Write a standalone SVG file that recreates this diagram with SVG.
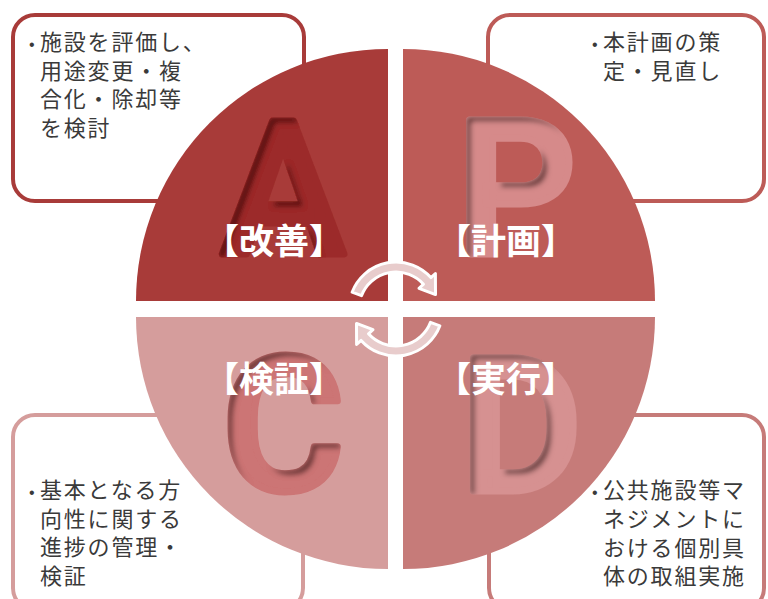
<svg xmlns="http://www.w3.org/2000/svg" width="768" height="599" viewBox="0 0 768 599">
<style>
.box{fill:#fff;stroke-width:4}
.t{font-family:"Noto Sans CJK JP","Noto Sans",sans-serif;font-size:22px;fill:#3a3a3a;letter-spacing:1.8px}
.bu{font-family:"Liberation Sans",sans-serif;font-size:16px;letter-spacing:0}
.lab{font-family:"Noto Sans CJK JP",sans-serif;font-weight:700;font-size:35px;fill:#fff;text-anchor:middle}
.let{font-family:Roboto,"Liberation Sans",sans-serif;font-weight:500;font-size:188px;text-anchor:middle;stroke-width:7;stroke-linejoin:round;filter:url(#inset)}
.arr{fill:#e8cccc;stroke:#fff;stroke-width:3;stroke-linejoin:round}
</style>
<defs>
<filter id="inset" x="-10%" y="-10%" width="120%" height="120%">
<feOffset in="SourceAlpha" dx="5" dy="5" result="o"/>
<feComposite in="SourceAlpha" in2="o" operator="out" result="edge"/>
<feGaussianBlur in="edge" stdDeviation="2.5" result="b"/>
<feFlood flood-color="#2a0808" flood-opacity="0.8"/>
<feComposite in2="b" operator="in" result="sh"/>
<feComposite in="sh" in2="SourceAlpha" operator="in" result="sh2"/>
<feMerge><feMergeNode in="SourceGraphic"/><feMergeNode in="sh2"/></feMerge>
</filter>
</defs>
<rect width="768" height="599" fill="#fff"/>
<g id="box-act">
<rect class="box" x="13" y="15" width="291" height="186" rx="22" stroke="#a83b39"/>
<text class="t" y="50"><tspan class="bu" x="29">•</tspan><tspan x="40">施設を評価し、</tspan></text>
<text class="t" x="40" y="78.5">用途変更・複</text>
<text class="t" x="40" y="107">合化・除却等</text>
<text class="t" x="40" y="135.5">を検討</text>
</g>
<g id="box-plan">
<rect class="box" x="488" y="15" width="276" height="186" rx="22" stroke="#bd5b57"/>
<text class="t" y="50"><tspan class="bu" x="592">•</tspan><tspan x="603">本計画の策</tspan></text>
<text class="t" x="603" y="78.5">定・見直し</text>
</g>
<g id="box-check">
<rect class="box" x="13" y="415" width="290" height="195" rx="22" stroke="#d59d9c"/>
<text class="t" y="498"><tspan class="bu" x="29">•</tspan><tspan x="40">基本となる方</tspan></text>
<text class="t" x="40" y="526.5">向性に関する</text>
<text class="t" x="40" y="555">進捗の管理・</text>
<text class="t" x="40" y="583.5">検証</text>
</g>
<g id="box-do">
<rect class="box" x="489" y="415" width="275" height="195" rx="22" stroke="#c67b79"/>
<text class="t" y="498"><tspan class="bu" x="592">•</tspan><tspan x="603">公共施設等マ</tspan></text>
<text class="t" x="603" y="527">ネジメントに</text>
<text class="t" x="603" y="555.5">おける個別具</text>
<text class="t" x="603" y="584">体の取組実施</text>
</g>
<g id="q-act">
<path d="M388,301 L136,301 A252,252 0 0 1 388,49 Z" fill="#a83b39"/>
<text class="let" x="283" y="254" fill="#9c2c2a" stroke="#9c2c2a">A</text>
<text class="lab" x="274" y="254">【改善】</text>
</g>
<g id="q-plan">
<path d="M403,301 L403,49 A252,252 0 0 1 655,301 Z" fill="#bd5b57"/>
<text class="let" x="516" y="254" fill="#d68a8a" stroke="#d68a8a">P</text>
<text class="lab" x="506" y="254">【計画】</text>
</g>
<g id="q-check">
<path d="M388,317 L388,569 A252,252 0 0 1 136,317 Z" fill="#d59d9c"/>
<text class="let" x="283" y="490" fill="#cc7474" stroke="#cc7474">C</text>
<text class="lab" x="274" y="392">【検証】</text>
</g>
<g id="q-do">
<path d="M403,317 L655,317 A252,252 0 0 1 403,569 Z" fill="#c67b79"/>
<text class="let" x="521" y="491" fill="#d69191" stroke="#d69191">D</text>
<text class="lab" x="506" y="392">【実行】</text>
</g>
<g id="connectors">
<path class="arr" d="M352.1,292.2 A47,47 0 0 1 430.9,277.6 L435.4,273.5 L435.5,294.6 L419,288.3 L423.5,284.2 A37,37 0 0 0 361.5,295.7 Z"/>
<path class="arr" transform="rotate(180 396 309)" d="M352.1,292.2 A47,47 0 0 1 430.9,277.6 L435.4,273.5 L435.5,294.6 L419,288.3 L423.5,284.2 A37,37 0 0 0 361.5,295.7 Z"/>
</g>
</svg>
